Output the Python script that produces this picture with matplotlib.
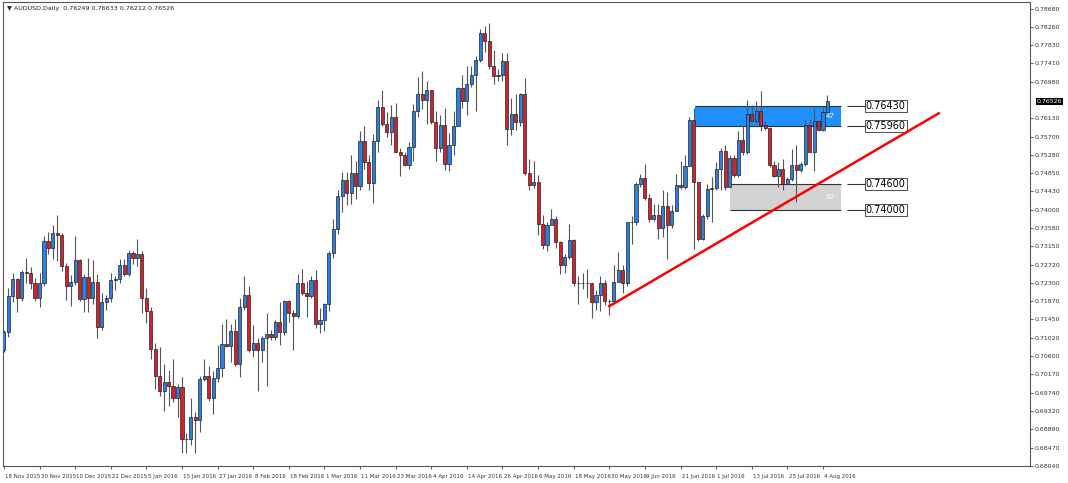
import numpy as np
import matplotlib
matplotlib.use("Agg")
import matplotlib.pyplot as plt
from matplotlib.patches import Rectangle

# AUDUSD daily, 18 Nov 2015 .. 5 Aug 2016 (prices in pips, /10000)
first_open = 7075
close_p = [7116, 7199, 7240, 7196, 7256, 7254, 7231, 7196, 7231, 7327,
           7311, 7346, 7341, 7270, 7222, 7233, 7284, 7192, 7245, 7196,
           7233, 7128, 7185, 7194, 7238, 7240, 7272, 7252, 7300, 7288,
           7297, 7194, 7164, 7077, 7013, 6979, 6999, 6990, 6963, 6988,
           6866, 6866, 6917, 6912, 7006, 7013, 6963, 7008, 7031, 7089,
           7084, 7119, 7041, 7174, 7203, 7075, 7091, 7073, 7102, 7112,
           7105, 7139, 7116, 7187, 7160, 7153, 7231, 7206, 7199, 7238,
           7135, 7144, 7180, 7300, 7355, 7433, 7469, 7440, 7485, 7456,
           7561, 7511, 7462, 7561, 7639, 7600, 7582, 7616, 7536, 7527,
           7504, 7547, 7630, 7669, 7657, 7680, 7605, 7545, 7598, 7506,
           7552, 7595, 7683, 7653, 7694, 7715, 7749, 7811, 7793, 7735,
           7712, 7715, 7747, 7589, 7623, 7605, 7669, 7485, 7458, 7465,
           7368, 7318, 7364, 7378, 7325, 7272, 7290, 7329, 7231, 7229,
           7229, 7229, 7185, 7203, 7229, 7187, 7187, 7233, 7261, 7231,
           7371, 7371, 7460, 7474, 7428, 7378, 7389, 7359, 7410, 7364,
           7398, 7458, 7453, 7502, 7609, 7465, 7332, 7385, 7449, 7451,
           7495, 7538, 7453, 7520, 7481, 7563, 7534, 7623, 7607, 7630,
           7598, 7591, 7504, 7479, 7495, 7460, 7472, 7504, 7492, 7506,
           7598, 7536, 7607, 7586, 7628, 7653]
high_p = [7121, 7219, 7254, 7242, 7261, 7288, 7268, 7242, 7254, 7339,
          7348, 7366, 7389, 7346, 7277, 7249, 7339, 7286, 7252, 7288,
          7284, 7252, 7206, 7201, 7254, 7247, 7286, 7286, 7307, 7304,
          7332, 7304, 7219, 7174, 7091, 7082, 7041, 7027, 7054, 6995,
          7011, 6880, 6963, 6930, 7013, 7052, 7036, 7024, 7086, 7135,
          7146, 7135, 7146, 7194, 7247, 7222, 7132, 7102, 7107, 7160,
          7121, 7144, 7185, 7190, 7190, 7167, 7252, 7263, 7235, 7247,
          7261, 7171, 7183, 7304, 7378, 7446, 7488, 7488, 7529, 7513,
          7584, 7595, 7529, 7577, 7657, 7680, 7628, 7644, 7648, 7545,
          7534, 7559, 7646, 7710, 7724, 7701, 7680, 7630, 7621, 7637,
          7579, 7630, 7687, 7715, 7735, 7735, 7758, 7820, 7827, 7834,
          7772, 7728, 7765, 7765, 7660, 7669, 7673, 7706, 7518, 7515,
          7481, 7389, 7371, 7403, 7385, 7327, 7297, 7368, 7332, 7247,
          7254, 7263, 7231, 7213, 7247, 7238, 7192, 7272, 7302, 7272,
          7373, 7387, 7465, 7483, 7506, 7437, 7414, 7414, 7446, 7442,
          7412, 7483, 7515, 7529, 7616, 7637, 7453, 7391, 7460, 7476,
          7511, 7545, 7550, 7529, 7529, 7584, 7598, 7657, 7644, 7653,
          7676, 7607, 7593, 7515, 7511, 7518, 7476, 7543, 7552, 7511,
          7611, 7611, 7637, 7607, 7641, 7667]
low_p = [7070, 7105, 7185, 7162, 7187, 7229, 7215, 7187, 7174, 7224,
         7297, 7286, 7281, 7258, 7190, 7176, 7226, 7187, 7162, 7162,
         7180, 7102, 7121, 7167, 7185, 7213, 7229, 7247, 7247, 7275,
         7270, 7160, 7137, 7052, 6983, 6967, 6933, 6944, 6953, 6917,
         6834, 6834, 6853, 6834, 6882, 7002, 6956, 6924, 6999, 7011,
         7082, 7047, 7036, 7011, 7167, 7070, 7057, 6979, 7045, 6990,
         7098, 7098, 7086, 7109, 7139, 7075, 7148, 7201, 7151, 7196,
         7125, 7114, 7119, 7164, 7288, 7343, 7396, 7412, 7414, 7426,
         7446, 7495, 7446, 7417, 7536, 7595, 7570, 7552, 7534, 7479,
         7502, 7495, 7513, 7616, 7634, 7600, 7600, 7513, 7534, 7492,
         7490, 7529, 7595, 7637, 7621, 7687, 7630, 7744, 7767, 7728,
         7692, 7701, 7699, 7550, 7575, 7586, 7595, 7481, 7446, 7451,
         7341, 7309, 7304, 7368, 7311, 7252, 7254, 7286, 7224, 7180,
         7217, 7196, 7148, 7167, 7164, 7178, 7155, 7183, 7233, 7206,
         7222, 7320, 7364, 7453, 7424, 7373, 7375, 7332, 7336, 7286,
         7359, 7410, 7449, 7449, 7502, 7309, 7327, 7329, 7380, 7373,
         7446, 7446, 7446, 7460, 7476, 7476, 7529, 7531, 7605, 7602,
         7584, 7586, 7499, 7476, 7453, 7446, 7460, 7467, 7419, 7488,
         7502, 7534, 7490, 7584, 7584, 7625]

date_labels = ["18 Nov 2015", "30 Nov 2015", "10 Dec 2015", "22 Dec 2015", "5 Jan 2016",
               "15 Jan 2016", "27 Jan 2016", "8 Feb 2016", "18 Feb 2016", "1 Mar 2016",
               "11 Mar 2016", "23 Mar 2016", "4 Apr 2016", "14 Apr 2016", "26 Apr 2016",
               "6 May 2016", "18 May 2016", "30 May 2016", "9 Jun 2016", "21 Jun 2016",
               "1 Jul 2016", "13 Jul 2016", "25 Jul 2016", "4 Aug 2016"]
price_ticks = [0.78680, 0.78260, 0.77830, 0.77410, 0.76980, 0.76130, 0.75700, 0.75280,
               0.74850, 0.74430, 0.74000, 0.73580, 0.73150, 0.72720, 0.72300, 0.71870,
               0.71450, 0.71020, 0.70600, 0.70170, 0.69740, 0.69320, 0.68890, 0.68470, 0.68040]
last_price = 0.76526
supply_zone = (0.75960, 0.76430)
demand_zone = (0.74000, 0.74600)
trend = [(136, 0.7176), (210, 0.7625)]

close = np.array(close_p) / 10000
high = np.array(high_p) / 10000
low = np.array(low_p) / 10000
opn = np.concatenate([[first_open / 10000], close[:-1]])
high = np.maximum(high, np.maximum(opn, close))
low = np.minimum(low, np.minimum(opn, close))
x = np.arange(len(close))

W, H = 1068, 483
fig = plt.figure(figsize=(W / 100, H / 100), dpi=100)
ax = fig.add_axes([3 / W, 17 / H, 1027 / W, 464 / H])
ax.set_xlim(-0.2, 230.5)
ax.set_ylim(0.6820, 0.7884)

up = close >= opn
ax.vlines(x, low, high, color="#555555", lw=0.8, zorder=2)
ax.bar(x[up], (close - opn)[up], bottom=opn[up], width=0.7, color="#2a7fe0",
       edgecolor="#222222", lw=0.5, zorder=3)
ax.bar(x[~up], (close - opn)[~up], bottom=opn[~up], width=0.7, color="#d8202c",
       edgecolor="#222222", lw=0.5, zorder=3)

# zones
ax.add_patch(Rectangle((155.3, supply_zone[0]), 188 - 155.3, supply_zone[1] - supply_zone[0],
                       facecolor="#1e90ff", edgecolor="none", zorder=1))
ax.add_patch(Rectangle((163.0, demand_zone[0]), 188 - 163.0, demand_zone[1] - demand_zone[0],
                       facecolor="#d3d3d3", edgecolor="none", zorder=1))
for lo, hi, x0 in [(supply_zone[0], supply_zone[1], 155.3), (demand_zone[0], demand_zone[1], 163.0)]:
    ax.hlines([lo, hi], x0, 188, color="#333333", lw=0.8, zorder=1.5)
ax.text(186.5, sum(supply_zone) / 2, "47", color="white", fontsize=5, ha="right", va="center")
ax.text(186.5, sum(demand_zone) / 2, "60", color="white", fontsize=5, ha="right", va="center")
for lvl in [*supply_zone, *demand_zone]:
    ax.hlines(lvl, 189.5, 193.5, color="#333333", lw=0.8)
    ax.text(193.6, lvl, f"{lvl:.5f}", fontsize=7, va="center", ha="left",
            bbox=dict(boxstyle="square,pad=0.1", facecolor="white", edgecolor="#333333", lw=0.6))

ax.plot([p[0] for p in trend], [p[1] for p in trend], color="#ff0000", lw=1.8, zorder=4)

# axes styling
for s in ["top", "bottom", "left", "right"]:
    ax.spines[s].set_color("#555555")
    ax.spines[s].set_linewidth(0.8)
ax.yaxis.tick_right()
ax.set_yticks(price_ticks)
ax.set_yticklabels([f"{t:.5f}" for t in price_ticks], fontsize=4.5, color="#333333")
ax.tick_params(axis="y", length=2, pad=1.5, color="#666666")
ticks = np.arange(len(date_labels)) * 8
ax.set_xticks(ticks)
ax.set_xticklabels([])
ax.tick_params(axis="x", length=2, direction="out", color="#666666")
for t, lab in zip(ticks, date_labels):
    ax.text(t + 0.3, -0.017, lab, transform=ax.get_xaxis_transform(), fontsize=4.0,
            color="#333333", ha="left", va="top")
ax.text(1.0065, last_price, f"{last_price:.5f}", transform=ax.get_yaxis_transform(),
        fontsize=4.5, color="white", va="center", ha="left",
        bbox=dict(boxstyle="square,pad=0.15", facecolor="black", edgecolor="none"))
ax.text(0.004, 0.992, "\u25bc AUDUSD,Daily  0.76249 0.76633 0.76212 0.76526",
        transform=ax.transAxes, fontsize=4.6, color="#222222", va="top", ha="left")

fig.savefig("out.png", dpi=100)
